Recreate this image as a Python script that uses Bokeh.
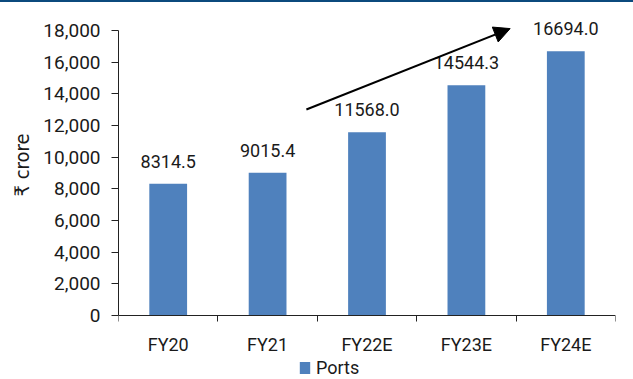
from bokeh.plotting import figure
from bokeh.models import (ColumnDataSource, LabelSet, Arrow, NormalHead, FixedTicker,
                          Legend, LegendItem, Div, NumeralTickFormatter, Title)
from bokeh.core.properties import value
from bokeh.layouts import column
from bokeh.embed import file_html
from bokeh.resources import INLINE

categories = ["FY20", "FY21", "FY22E", "FY23E", "FY24E"]
values = [8314.5, 9015.4, 11568.0, 14544.3, 16694.0]
value_labels = ["8314.5", "9015.4", "11568.0", "14544.3", "16694.0"]
y_ticks = [0, 2000, 4000, 6000, 8000, 10000, 12000, 14000, 16000, 18000]
arrow_start = (1.39, 13010)
arrow_end = (3.44, 18120)

FONT = "Roboto"
BAR = "#4f81bd"
TXT = "#1a1a1a"

xs = list(range(len(categories)))
src = ColumnDataSource(dict(x=xs, top=values, label=value_labels))

p = figure(width=633, height=377, x_range=(-0.5, 4.5), y_range=(-4042, 19263),
           output_backend="svg", toolbar_location=None,
           min_border_left=117, min_border_right=18, min_border_top=8, min_border_bottom=0)
p.outline_line_color = None
p.grid.grid_line_color = None
p.background_fill_color = "white"
p.border_fill_color = "white"

r = p.vbar(x="x", top="top", bottom=0, width=0.38, source=src, fill_color=BAR, line_color=None)

labels = LabelSet(x="x", y="top", text="label", source=src, text_align="center",
                  text_baseline="alphabetic", y_offset=16, text_font=value(FONT),
                  text_font_size="18px", text_color=TXT)
p.add_layout(labels)

p.add_layout(Arrow(end=NormalHead(size=16, fill_color="black", line_color="black"),
                   x_start=arrow_start[0], y_start=arrow_start[1],
                   x_end=arrow_end[0], y_end=arrow_end[1],
                   line_color="black", line_width=2))

# x axis: category labels at centres, ticks at boundaries, fixed at y = 0
xa = p.xaxis[0]
xa.fixed_location = 0
xa.ticker = FixedTicker(ticks=xs, minor_ticks=[i - 0.5 for i in range(len(categories) + 1)])
xa.major_label_overrides = {i: c for i, c in enumerate(categories)}
xa.major_tick_out = 0
xa.major_tick_in = 0
xa.minor_tick_out = 6
xa.minor_tick_in = 0
xa.minor_tick_line_color = "#222222"
xa.axis_line_color = "#222222"
xa.major_label_text_font = FONT
xa.major_label_text_font_size = "18px"
xa.major_label_text_color = TXT
xa.major_label_standoff = 12

ya = p.yaxis[0]
ya.ticker = FixedTicker(ticks=y_ticks)
ya.bounds = (0, 18000)
ya.formatter = NumeralTickFormatter(format="0,0")
ya.major_tick_out = 7
ya.major_tick_in = 0
ya.minor_tick_line_color = None
ya.axis_line_color = "#222222"
ya.major_tick_line_color = "#222222"
ya.major_label_text_font = FONT
ya.major_label_text_font_size = "19px"
ya.major_label_text_color = TXT
ya.major_label_standoff = 11

ytitle = Title(text="₹ crore", align="left", offset=183, standoff=14,
               text_font="DejaVu Sans Condensed", text_font_size="20px",
               text_font_style="normal", text_color=TXT)
p.add_layout(ytitle, "left")

legend = Legend(items=[LegendItem(label="Ports", renderers=[r])], orientation="horizontal",
                location=(180, 1), glyph_width=13, glyph_height=15, label_standoff=5,
                label_text_font=FONT, label_text_font_size="18px", label_text_color=TXT,
                padding=0, margin=0, border_line_color=None, background_fill_alpha=0)
p.add_layout(legend)

top_line = Div(width=633, height=2, margin=0, styles={"background-color": "#0b4a7d"})
layout = column(top_line, p, spacing=0)

open("out.html", "w").write(file_html(layout, INLINE))
